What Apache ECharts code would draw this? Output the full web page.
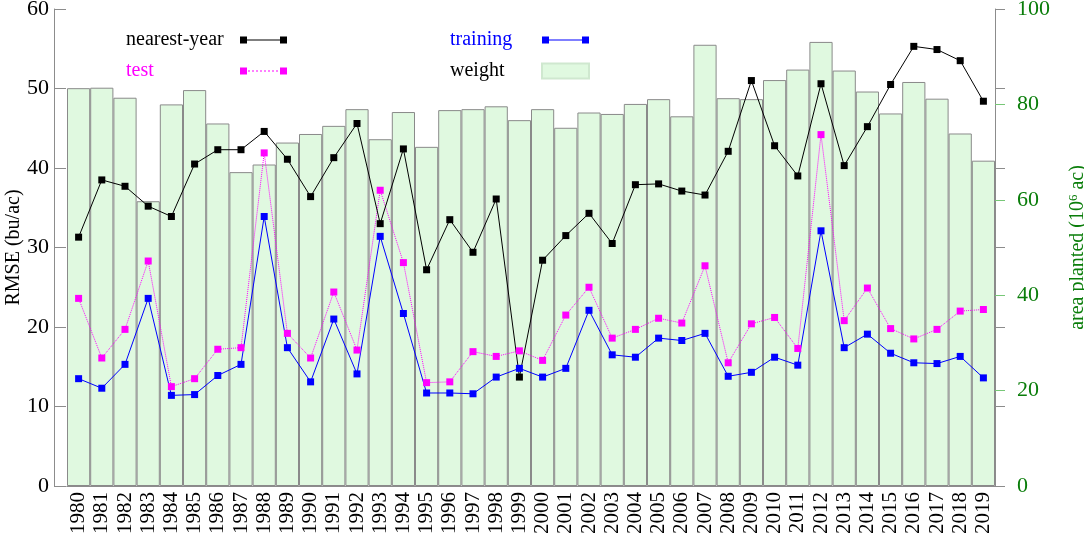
<!DOCTYPE html>
<html>
<head>
<meta charset="utf-8">
<script src="https://cdn.jsdelivr.net/npm/echarts@6/dist/echarts.min.js"></script>
<style>
  html, body { margin: 0; padding: 0; background: #fff; }
  #chart { width: 1084px; height: 538px; }
</style>
</head>
<body>
<div id="chart"></div>
<script>
// years on the x axis
var years = [];
for (var y = 1980; y <= 2019; y++) years.push(String(y));

// RMSE (bu/ac), left axis
var nearestYear = [31.3, 38.5, 37.7, 35.2, 33.9, 40.5, 42.3, 42.3, 44.6, 41.1,
                   36.4, 41.3, 45.6, 33.0, 42.4, 27.2, 33.5, 29.4, 36.1, 13.7,
                   28.4, 31.5, 34.3, 30.5, 37.9, 38.0, 37.1, 36.6, 42.1, 51.0,
                   42.8, 39.0, 50.6, 40.3, 45.2, 50.5, 55.3, 54.9, 53.5, 48.4];
var test = [23.6, 16.1, 19.7, 28.3, 12.5, 13.5, 17.2, 17.4, 41.9, 19.2,
            16.1, 24.4, 17.1, 37.2, 28.1, 13.0, 13.1, 16.9, 16.3, 17.0,
            15.8, 21.5, 25.0, 18.6, 19.7, 21.1, 20.5, 27.7, 15.5, 20.4,
            21.2, 17.3, 44.2, 20.8, 24.9, 19.8, 18.5, 19.7, 22.0, 22.2];
var training = [13.5, 12.3, 15.3, 23.6, 11.4, 11.5, 13.9, 15.3, 33.9, 17.4,
                13.1, 21.0, 14.1, 31.4, 21.7, 11.7, 11.7, 11.6, 13.7, 14.8,
                13.7, 14.8, 22.1, 16.5, 16.2, 18.6, 18.3, 19.2, 13.8, 14.3,
                16.2, 15.2, 32.1, 17.4, 19.1, 16.7, 15.5, 15.4, 16.3, 13.6];
// area planted (10^6 ac), right axis
var weight = [83.4, 83.5, 81.4, 59.7, 80.0, 83.0, 76.0, 65.8, 67.4, 72.0,
              73.8, 75.5, 79.0, 72.7, 78.4, 71.1, 78.8, 79.0, 79.6, 76.7,
              79.0, 75.1, 78.3, 78.0, 80.1, 81.1, 77.5, 92.5, 81.3, 81.1,
              85.1, 87.3, 93.1, 87.1, 82.7, 78.1, 84.7, 81.2, 73.9, 68.2];

var font = '"Liberation Serif", "DejaVu Serif", serif';
var axisGray = '#8c8c8c';
var green = '#0a7d0a';

// legend icons: line with a square at each end
var solidIcon = 'path://M0,0H7V7H0Z M40,0H47V7H40Z M7,3H40V4H7Z';
var dottedIcon = 'path://M0,0H7V7H0Z M40,0H47V7H40Z M8,3H10V4H8Z M12,3H14V4H12Z M16,3H18V4H16Z M20,3H22V4H20Z M24,3H26V4H24Z M28,3H30V4H28Z M32,3H34V4H32Z M36,3H38V4H36Z';

var chart = echarts.init(document.getElementById('chart'), null, { renderer: 'canvas' });

function legendCol(left, width, iconH, items) {
    return {
        left: left, top: 30, orient: 'vertical', align: 'right',
        padding: 0, itemGap: 11, itemWidth: 47, itemHeight: iconH,
        selectedMode: false,
        formatter: '{t|{name}}',
        textStyle: {
            fontFamily: font, fontSize: 20,
            rich: { t: { width: width, align: 'left', fontFamily: font, fontSize: 20 } }
        },
        data: items
    };
}

chart.setOption({
    animation: false,
    textStyle: { fontFamily: font },
    grid: { left: 67, right: 89, top: 9, bottom: 52, containLabel: false, outerBoundsMode: 'none' },
    legend: [
        legendCol(126, 109, 7, [
            { name: 'nearest-year', icon: solidIcon, textStyle: { color: '#000' } },
            { name: 'test', icon: dottedIcon, textStyle: { color: '#ff00ff' } }
        ]),
        legendCol(450, 87, 15, [
            { name: 'training', icon: solidIcon, textStyle: { color: '#0000ff' } },
            { name: 'weight', icon: 'rect', itemStyle: { borderColor: '#cfe8cf' }, textStyle: { color: '#000' } }
        ])
    ],
    xAxis: [{
        type: 'category',
        data: years,
        position: 'bottom',
        axisLine: { lineStyle: { color: axisGray } },
        axisTick: { show: false },
        axisLabel: { rotate: 90, fontSize: 21, color: '#000', margin: 6, interval: 0, fontFamily: font }
    }, {
        type: 'category',
        data: years,
        position: 'top',
        axisLine: { lineStyle: { color: axisGray } },
        axisTick: { inside: true, alignWithLabel: true, length: 10, interval: 0, lineStyle: { color: axisGray } },
        axisLabel: { show: false }
    }],
    yAxis: [{
        type: 'value',
        min: 0, max: 60, interval: 10,
        position: 'left',
        offset: 13,
        name: 'RMSE (bu/ac)',
        nameLocation: 'middle',
        nameGap: 30,
        nameMoveOverlap: false,
        nameTextStyle: { fontSize: 20, color: '#000', fontFamily: font },
        axisLine: { show: true, lineStyle: { color: axisGray } },
        axisTick: { show: true, inside: true, length: 12, lineStyle: { color: axisGray } },
        axisLabel: { fontSize: 22, color: '#000', margin: 5, fontFamily: font },
        splitLine: { show: false }
    }, {
        type: 'value',
        min: 0, max: 100, interval: 20,
        position: 'right',
        name: 'area planted (10{s|6} ac)',
        nameLocation: 'middle',
        nameGap: 72,
        nameMoveOverlap: false,
        nameTextStyle: {
            fontSize: 20, color: green, fontFamily: font,
            rich: { s: { fontSize: 13, color: green, fontFamily: font, verticalAlign: 'top', padding: [0, 0, 8, 0] } }
        },
        axisLine: { show: true, lineStyle: { color: axisGray } },
        axisTick: { show: true, length: 10, lineStyle: { color: '#77c777' } },
        axisLabel: { fontSize: 22, color: green, margin: 22, fontFamily: font },
        splitLine: { show: false }
    }, {
        // mirrored left-axis ticks on the right side
        type: 'value',
        min: 0, max: 60, interval: 10,
        position: 'right',
        axisLine: { show: false },
        axisTick: { show: true, length: 10, lineStyle: { color: axisGray } },
        axisLabel: { show: false },
        splitLine: { show: false }
    }],
    series: [{
        name: 'weight',
        type: 'bar',
        yAxisIndex: 1,
        barCategoryGap: 0,
        itemStyle: { color: '#e0f9e0', borderColor: '#8a8a8a', borderWidth: 1 },
        data: weight
    }, {
        name: 'test',
        type: 'line',
        symbol: 'rect', symbolSize: 7, showAllSymbol: true,
        itemStyle: { color: '#ff00ff' },
        lineStyle: { color: '#ff00ff', width: 1, type: 'dotted' },
        data: test
    }, {
        name: 'training',
        type: 'line',
        symbol: 'rect', symbolSize: 7, showAllSymbol: true,
        itemStyle: { color: '#0000ff' },
        lineStyle: { color: '#0000ff', width: 1 },
        data: training
    }, {
        name: 'nearest-year',
        type: 'line',
        symbol: 'rect', symbolSize: 7, showAllSymbol: true,
        itemStyle: { color: '#000' },
        lineStyle: { color: '#000', width: 1 },
        data: nearestYear
    }]
});
</script>
</body>
</html>
